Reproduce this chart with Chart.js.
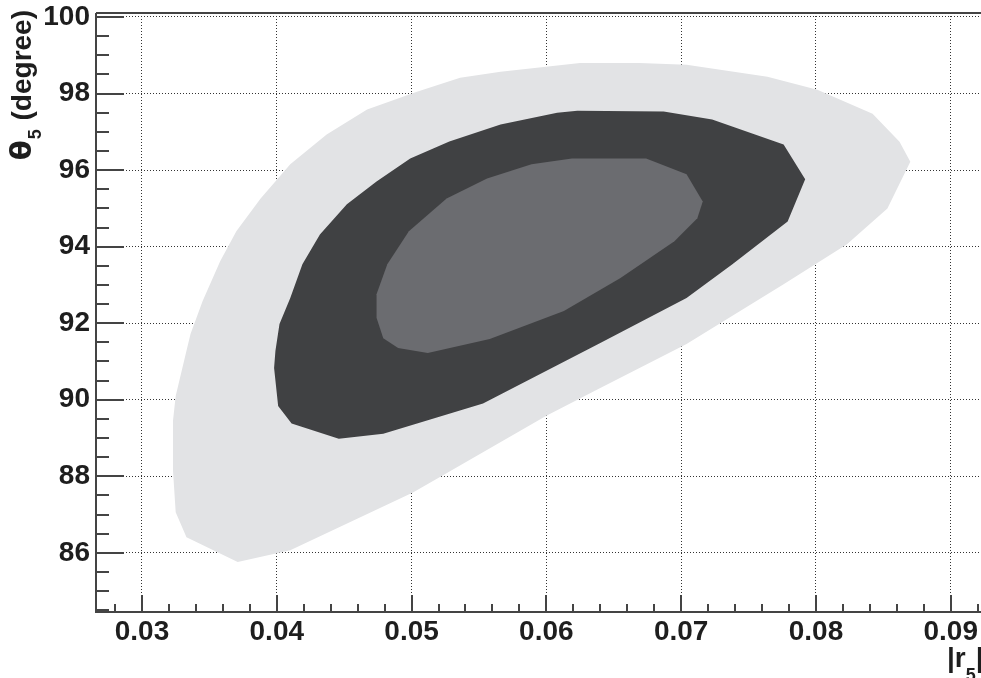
<!DOCTYPE html>
<html>
<head>
<meta charset="utf-8">
<script src="https://cdn.jsdelivr.net/npm/chart.js@4.4.1/dist/chart.umd.min.js"></script>
<style>
  html, body { margin: 0; padding: 0; background: #fff; }
  #wrap { width: 981px; height: 678px; }
</style>
</head>
<body>
<div id="wrap"><canvas id="contourChart" width="981" height="678"></canvas></div>
<script>
// tick labels
const xTicks = [0.03, 0.04, 0.05, 0.06, 0.07, 0.08, 0.09];
const yTicks = [86, 88, 90, 92, 94, 96, 98, 100];

// outer contour (light)
const outerR = [0.0371, 0.0333, 0.0325, 0.0323, 0.0323, 0.0325, 0.0333, 0.0336, 0.0345, 0.0358, 0.0370,
  0.0388, 0.0410, 0.0437, 0.0467, 0.0504, 0.0536, 0.0566, 0.0625, 0.0669, 0.0704, 0.0764, 0.0801,
  0.0842, 0.0862, 0.0870, 0.0853, 0.0823, 0.0776, 0.0704, 0.0640, 0.0600, 0.0523, 0.0501, 0.0410];
const outerTheta = [85.76, 86.41, 87.06, 88.15, 89.45, 90.10, 91.28, 91.72, 92.58, 93.62, 94.40,
  95.26, 96.15, 96.93, 97.58, 98.05, 98.41, 98.57, 98.80, 98.80, 98.75, 98.44, 98.10,
  97.47, 96.74, 96.22, 95.00, 94.06, 93.02, 91.46, 90.31, 89.58, 88.02, 87.58, 86.07];

// middle contour (dark)
const midR = [0.0499, 0.0528, 0.0566, 0.0608, 0.0623, 0.0687, 0.0723, 0.0776, 0.0792, 0.0779, 0.0738,
  0.0704, 0.0640, 0.0553, 0.0479, 0.0446, 0.0411, 0.0401, 0.0398, 0.0399, 0.0402, 0.0410, 0.0419,
  0.0432, 0.0452, 0.0474];
const midTheta = [96.30, 96.75, 97.19, 97.50, 97.55, 97.53, 97.32, 96.67, 95.76, 94.66, 93.54,
  92.66, 91.48, 89.90, 89.11, 88.98, 89.38, 89.84, 90.83, 91.28, 91.98, 92.66, 93.54,
  94.32, 95.11, 95.70];

// inner contour (medium)
const innerR = [0.0619, 0.0674, 0.0704, 0.0716, 0.0712, 0.0695, 0.0655, 0.0613, 0.0558, 0.0512,
  0.0490, 0.0479, 0.0474, 0.0474, 0.0482, 0.0498, 0.0526, 0.0556, 0.0589];
const innerTheta = [96.30, 96.30, 95.89, 95.18, 94.74, 94.14, 93.18, 92.32, 91.59, 91.22,
  91.35, 91.61, 92.14, 92.76, 93.54, 94.40, 95.26, 95.78, 96.15];

function toPoints(xs, ys) {
  const pts = xs.map((x, i) => ({ x, y: ys[i] }));
  pts.push({ x: xs[0], y: ys[0] });
  return pts;
}

function contour(xs, ys, color, order) {
  return {
    data: toPoints(xs, ys),
    backgroundColor: color,
    borderColor: color,
    borderWidth: 0,
    pointRadius: 0,
    tension: 0,
    fill: "shape",
    order
  };
}

const FONT = '"Liberation Sans", Arial, sans-serif';
const AXIS_COLOR = "#444";

const framePlugin = {
  id: "frame",
  afterDatasetsDraw(chart) {
    const { ctx, chartArea } = chart;
    const xs = chart.scales.x;
    const ys = chart.scales.y;
    ctx.save();
    ctx.strokeStyle = AXIS_COLOR;
    ctx.lineWidth = 2;
    ctx.beginPath();
    ctx.moveTo(chartArea.left, chartArea.top);
    ctx.lineTo(chartArea.right + 2, chartArea.top);
    ctx.moveTo(chartArea.left, chartArea.top);
    ctx.lineTo(chartArea.left, chartArea.bottom);
    ctx.lineTo(chartArea.right + 2, chartArea.bottom);
    ctx.stroke();

    // inward ticks on the y axis
    ctx.beginPath();
    for (let v = Math.ceil(ys.min * 2) / 2; v <= ys.max; v += 0.5) {
      const py = Math.round(ys.getPixelForValue(v));
      const len = Math.abs(v % 2) < 1e-6 ? 28 : 13;
      ctx.moveTo(chartArea.left, py);
      ctx.lineTo(chartArea.left + len, py);
    }
    // inward ticks on the x axis
    for (let k = Math.ceil(xs.min / 0.002 - 1e-6); k * 0.002 <= xs.max; k++) {
      const px = Math.round(xs.getPixelForValue(k * 0.002));
      const len = k % 5 === 0 ? 17 : 8;
      ctx.moveTo(px, chartArea.bottom);
      ctx.lineTo(px, chartArea.bottom - len);
    }
    ctx.stroke();
    ctx.restore();
  },
  afterDraw(chart) {
    const { ctx } = chart;
    const main = "bold 28px " + FONT;
    const greek = 'bold 29px "DejaVu Sans", ' + FONT;
    const sub = "bold 18px " + FONT;
    ctx.save();
    ctx.fillStyle = "#1e1e1e";
    ctx.textBaseline = "alphabetic";
    ctx.textAlign = "left";

    // y title: theta_5 (degree), rotated
    ctx.font = greek;
    const wTheta = ctx.measureText("\u03b8").width;
    ctx.font = main;
    const wRest = ctx.measureText(" (degree)").width;
    ctx.font = sub;
    const w5 = ctx.measureText("5").width;
    const total = wTheta + w5 + 2 + wRest;
    ctx.save();
    ctx.translate(31, 10 + total);
    ctx.rotate(-Math.PI / 2);
    ctx.font = greek;
    ctx.fillText("\u03b8", 0, 0);
    ctx.font = sub;
    ctx.fillText("5", wTheta + 1, 10);
    ctx.font = main;
    ctx.fillText(" (degree)", wTheta + w5 + 2, 0);
    ctx.restore();

    // x title: |r_5|
    let x = 947;
    ctx.font = main;
    ctx.fillText("|r", x, 667);
    x += ctx.measureText("|r").width;
    ctx.font = sub;
    ctx.fillText("5", x, 681);
    x += ctx.measureText("5").width;
    ctx.font = main;
    ctx.fillText("|", x, 667);
    ctx.restore();
  }
};

new Chart(document.getElementById("contourChart").getContext("2d"), {
  type: "line",
  data: {
    datasets: [
      contour(outerR, outerTheta, "#e2e3e5", 3),
      contour(midR, midTheta, "#404143", 2),
      contour(innerR, innerTheta, "#6b6c70", 1)
    ]
  },
  options: {
    responsive: false,
    devicePixelRatio: 1,
    animation: false,
    events: [],
    layout: { padding: { top: 11, right: 0, left: 0, bottom: 0 } },
    plugins: { legend: { display: false }, tooltip: { enabled: false } },
    scales: {
      x: {
        type: "linear",
        min: 0.026588,
        max: 0.092225,
        afterBuildTicks: (scale) => { scale.ticks = xTicks.map((value) => ({ value })); },
        afterFit: (scale) => { scale.height = 66; },
        ticks: {
          padding: 3,
          maxRotation: 0,
          autoSkip: false,
          color: "#1e1e1e",
          font: { family: FONT, size: 28, weight: "bold" },
          callback: (value) => value.toFixed(2)
        },
        grid: { color: "#333", lineWidth: 1, drawTicks: false },
        border: { display: false, dash: [1, 2] }
      },
      y: {
        type: "linear",
        min: 84.456,
        max: 100.104,
        afterBuildTicks: (scale) => { scale.ticks = yTicks.map((value) => ({ value })); },
        afterFit: (scale) => { scale.width = 96; },
        ticks: {
          padding: 6,
          autoSkip: false,
          color: "#1e1e1e",
          font: { family: FONT, size: 28, weight: "bold", lineHeight: 0.5 },
          callback: (value) => String(value)
        },
        grid: { color: "#333", lineWidth: 1, drawTicks: false },
        border: { display: false, dash: [1, 2] }
      }
    }
  },
  plugins: [framePlugin]
});
</script>
</body>
</html>
